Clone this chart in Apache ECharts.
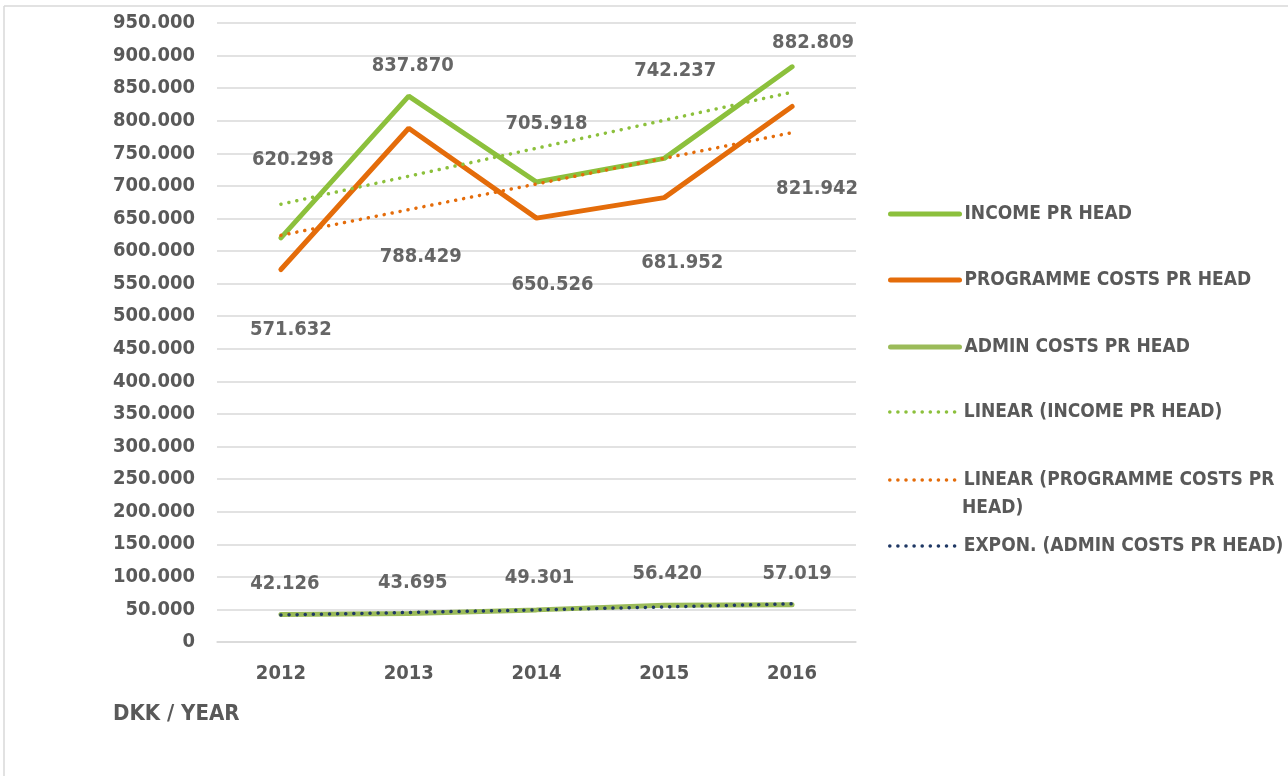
<!DOCTYPE html>
<html>
<head>
<meta charset="utf-8">
<title>Income and costs pr head</title>
<script src="https://cdn.jsdelivr.net/npm/echarts@6/dist/echarts.min.js"></script>
<style>
  html, body { margin: 0; padding: 0; background: #fff; }
  #chart { width: 1288px; height: 776px; }
</style>
</head>
<body>
<div id="chart"></div>
<script>
// data
var years = ['2012', '2013', '2014', '2015', '2016']
var income = [620298, 837870, 705918, 742237, 882809]
var programme = [571632, 788429, 650526, 681952, 821942]
var admin = [42126, 43695, 49301, 56420, 57019]
var linearIncome = [671900, 714900, 757800, 800700, 843700]
var linearProgramme = [624100, 663500, 702900, 742300, 781700]
var exponAdmin = [41500, 45300, 49300, 53800, 58600]
var seriesNames = [
  'INCOME PR HEAD',
  'PROGRAMME COSTS PR HEAD',
  'ADMIN COSTS PR HEAD',
  'LINEAR (INCOME PR HEAD)',
  'LINEAR (PROGRAMME COSTS PR HEAD)',
  'EXPON. (ADMIN COSTS PR HEAD)'
]

// label offsets (px) so the value labels sit where excel put them
var incomeLabelOffsets = [[12, -78], [4, -30], [10, -58], [11, -88], [21, -24]]
var programmeLabelOffsets = [[10, 60], [12, 129], [16, 67], [18, 65], [25, 82]]
var adminLabelOffsets = [[4, -31], [4, -31], [3, -32], [3, -31], [5, -31]]

var FONT = "'DejaVu Sans Condensed', 'DejaVu Sans', sans-serif"
var GREEN = '#8cc03c'
var ORANGE = '#e46c0a'
var ADMIN_GREEN = '#9bbb59'
var NAVY = '#1f3864'
var GRID_COLOR = '#d9d9d9'

function dotNumber(v) {
  return String(v).replace(/\B(?=(\d{3})+(?!\d))/g, '.')
}

function labelSeries(values, offsets) {
  return {
    type: 'scatter',
    symbolSize: 1,
    itemStyle: { color: 'rgba(0,0,0,0)' },
    silent: true,
    z: 10,
    data: values.map(function(v, i) {
      return { value: v, label: { offset: offsets[i] } }
    }),
    label: {
      show: true,
      position: 'inside',
      color: '#404040',
      fontFamily: FONT,
      fontWeight: 'bold',
      fontSize: 20,
      formatter: function(p) { return dotNumber(p.value) }
    }
  }
}

// one legend per entry so the vertical spacing matches
var legendCenters = [214, 280, 347, 412, 480, 546]
var legendLineWidths = [5, 5, 5, 3.5, 3.5, 3.5]
var legends = seriesNames.map(function(name, i) {
  return {
    data: [name],
    orient: 'vertical',
    left: 888,
    top: legendCenters[i] - 11,
    padding: 0,
    itemWidth: 69,
    itemHeight: 14,
    selectedMode: false,
    itemStyle: { opacity: 0 },
    lineStyle: { width: legendLineWidths[i], cap: 'round' },
    formatter: function(n) {
      return n === 'LINEAR (PROGRAMME COSTS PR HEAD)' ? 'LINEAR (PROGRAMME COSTS PR' : n
    },
    textStyle: {
      color: '#595959',
      fontFamily: FONT,
      fontWeight: 'bold',
      fontSize: 19,
      lineHeight: 22
    }
  }
})

var myChart = echarts.init(document.getElementById('chart'))
var option = {
  animation: false,
  backgroundColor: '#fff',
  title: {
    text: 'DKK / YEAR',
    left: 108,
    top: 698,
    textStyle: {
      color: '#595959',
      fontFamily: FONT,
      fontWeight: 'bold',
      fontSize: 22
    }
  },
  legend: legends,
  grid: {
    left: 217,
    right: 432,
    top: 23,
    bottom: 134
  },
  xAxis: {
    type: 'category',
    data: years,
    axisLine: { lineStyle: { color: GRID_COLOR, width: 1.5 } },
    axisTick: { show: false },
    axisLabel: {
      margin: 22,
      color: '#595959',
      fontFamily: FONT,
      fontWeight: 'bold',
      fontSize: 20
    }
  },
  yAxis: {
    type: 'value',
    min: 0,
    max: 950000,
    interval: 50000,
    axisLine: { show: false },
    axisTick: { show: false },
    splitLine: { lineStyle: { color: GRID_COLOR, width: 1.5 } },
    axisLabel: {
      margin: 22,
      color: '#595959',
      fontFamily: FONT,
      fontWeight: 'bold',
      fontSize: 20,
      formatter: function(v) { return v === 0 ? '0' : dotNumber(v) }
    }
  },
  graphic: [
    { type: 'line', shape: { x1: 4, y1: 6, x2: 1288, y2: 6 }, style: { stroke: '#d9d9d9', lineWidth: 1.5 } },
    { type: 'line', shape: { x1: 4, y1: 6, x2: 4, y2: 776 }, style: { stroke: '#d9d9d9', lineWidth: 1.5 } },
    {
      type: 'text',
      left: 962,
      top: 499,
      style: {
        text: 'HEAD)',
        fill: '#595959',
        font: 'bold 19px ' + FONT
      }
    }
  ],
  series: [
    {
      name: seriesNames[0],
      type: 'line',
      symbol: 'none',
      data: income,
      lineStyle: { color: GREEN, width: 5, cap: 'round' },
      itemStyle: { color: GREEN }
    },
    {
      name: seriesNames[1],
      type: 'line',
      symbol: 'none',
      data: programme,
      lineStyle: { color: ORANGE, width: 5, cap: 'round' },
      itemStyle: { color: ORANGE }
    },
    {
      name: seriesNames[2],
      type: 'line',
      symbol: 'none',
      data: admin,
      lineStyle: { color: ADMIN_GREEN, width: 5, cap: 'round' },
      itemStyle: { color: ADMIN_GREEN }
    },
    {
      name: seriesNames[3],
      type: 'line',
      symbol: 'none',
      data: linearIncome,
      lineStyle: { color: GREEN, width: 3.5, type: [0.1, 8], cap: 'round' },
      itemStyle: { color: GREEN }
    },
    {
      name: seriesNames[4],
      type: 'line',
      symbol: 'none',
      data: linearProgramme,
      lineStyle: { color: ORANGE, width: 3.5, type: [0.1, 8], cap: 'round' },
      itemStyle: { color: ORANGE }
    },
    {
      name: seriesNames[5],
      type: 'line',
      symbol: 'none',
      data: exponAdmin,
      lineStyle: { color: NAVY, width: 3.5, type: [0.1, 8], cap: 'round' },
      itemStyle: { color: NAVY }
    },
    labelSeries(income, incomeLabelOffsets),
    labelSeries(programme, programmeLabelOffsets),
    labelSeries(admin, adminLabelOffsets)
  ]
}
myChart.setOption(option)
window.addEventListener('resize', function() {
  myChart.resize()
})
</script>
</body>
</html>
